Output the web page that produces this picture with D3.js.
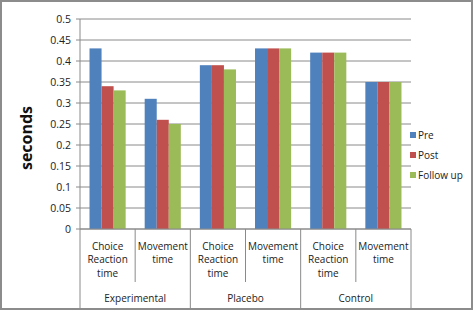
<!DOCTYPE html>
<html><head><meta charset="utf-8">
<script src="https://cdn.jsdelivr.net/npm/d3@7"></script>
<style>body{margin:0;background:#fff}svg{display:block}text{font-family:"Open Sans","Liberation Sans",sans-serif}</style>
</head><body><svg id="c" width="474" height="312"></svg>
<script>
const groups = ["Experimental","Placebo","Control"];
const subcats = [["Choice","Reaction","time"],["Movement","time"]];
const seriesNames = ["Pre","Post","Follow up"];
const colors = ["#4F81BD","#C0504D","#9BBB59"];
const pre =      [0.43,0.31,0.39,0.43,0.42,0.35];
const post =     [0.34,0.26,0.39,0.43,0.42,0.35];
const followUp = [0.33,0.25,0.38,0.43,0.42,0.35];
const yTicks = [0,0.05,0.1,0.15,0.2,0.25,0.3,0.35,0.4,0.45,0.5];
const yTickLabels = ["0","0.05","0.1","0.15","0.2","0.25","0.3","0.35","0.4","0.45","0.5"];

const svg = d3.select("#c");
const L=80,R=411,T=19,B=229;
svg.append("rect").attr("x",1).attr("y",1).attr("width",471).attr("height",308).attr("fill","#fff").attr("stroke","#8c8c8c").attr("stroke-width",2);

const cats = d3.range(6);
const x = d3.scaleBand().domain(cats).range([L,R]).paddingInner(0).paddingOuter(0);
const xs = d3.scaleBand().domain(d3.range(3)).range([0,x.bandwidth()]).paddingInner(0).paddingOuter(0.79);
const y = d3.scaleLinear().domain([0,0.5]).range([B,T]);

const grid = svg.append("g");
yTicks.forEach((t,i)=>{
  grid.append("line").attr("x1",L-4).attr("x2",R).attr("y1",y(t)).attr("y2",y(t)).attr("stroke","#8a8a8a").attr("stroke-width",1);
  svg.append("text").attr("x",L-9).attr("y",y(t)+3.5).attr("text-anchor","end").attr("font-size",10.5).attr("fill","#222").text(yTickLabels[i]);
});

const data = [pre,post,followUp];
data.forEach((vals,s)=>{
  svg.append("g").selectAll("rect").data(vals).join("rect")
    .attr("x",(d,i)=>x(i)+xs(s)).attr("width",xs.bandwidth())
    .attr("y",d=>y(d)).attr("height",d=>y(0)-y(d)).attr("fill",colors[s]);
});

// axes lines
const ax = svg.append("g").attr("stroke","#8a8a8a").attr("stroke-width",1);
ax.append("line").attr("x1",L).attr("x2",L).attr("y1",T).attr("y2",308);
ax.append("line").attr("x1",L).attr("x2",R).attr("y1",B).attr("y2",B);
cats.forEach(i=>{
  const xr = x(i)+x.bandwidth();
  ax.append("line").attr("x1",xr).attr("x2",xr).attr("y1",B).attr("y2", i%2===1?308:282);
});

// category labels
cats.forEach(i=>{
  const lines = subcats[i%2];
  const cx = x(i)+x.bandwidth()/2;
  lines.forEach((ln,j)=>{
    svg.append("text").attr("x",cx).attr("y",250+j*13.3).attr("text-anchor","middle").attr("font-size",10).attr("fill","#222").text(ln);
  });
});
groups.forEach((g,k)=>{
  const cx = x(k*2)+x.bandwidth();
  svg.append("text").attr("x",cx).attr("y",302).attr("text-anchor","middle").attr("font-size",10).attr("fill","#222").text(g);
});

// y title
svg.append("text").attr("transform","translate(32,138) rotate(-90)").attr("text-anchor","middle").attr("font-size",16).attr("font-weight","bold").attr("fill","#111").text("seconds");

// legend
seriesNames.forEach((n,i)=>{
  const ly = 136+i*20;
  svg.append("rect").attr("x",410).attr("y",ly-4).attr("width",6).attr("height",6).attr("fill",colors[i]);
  svg.append("text").attr("x",418).attr("y",ly+3).attr("font-size",10).attr("fill","#222").text(n);
});
</script></body></html>
